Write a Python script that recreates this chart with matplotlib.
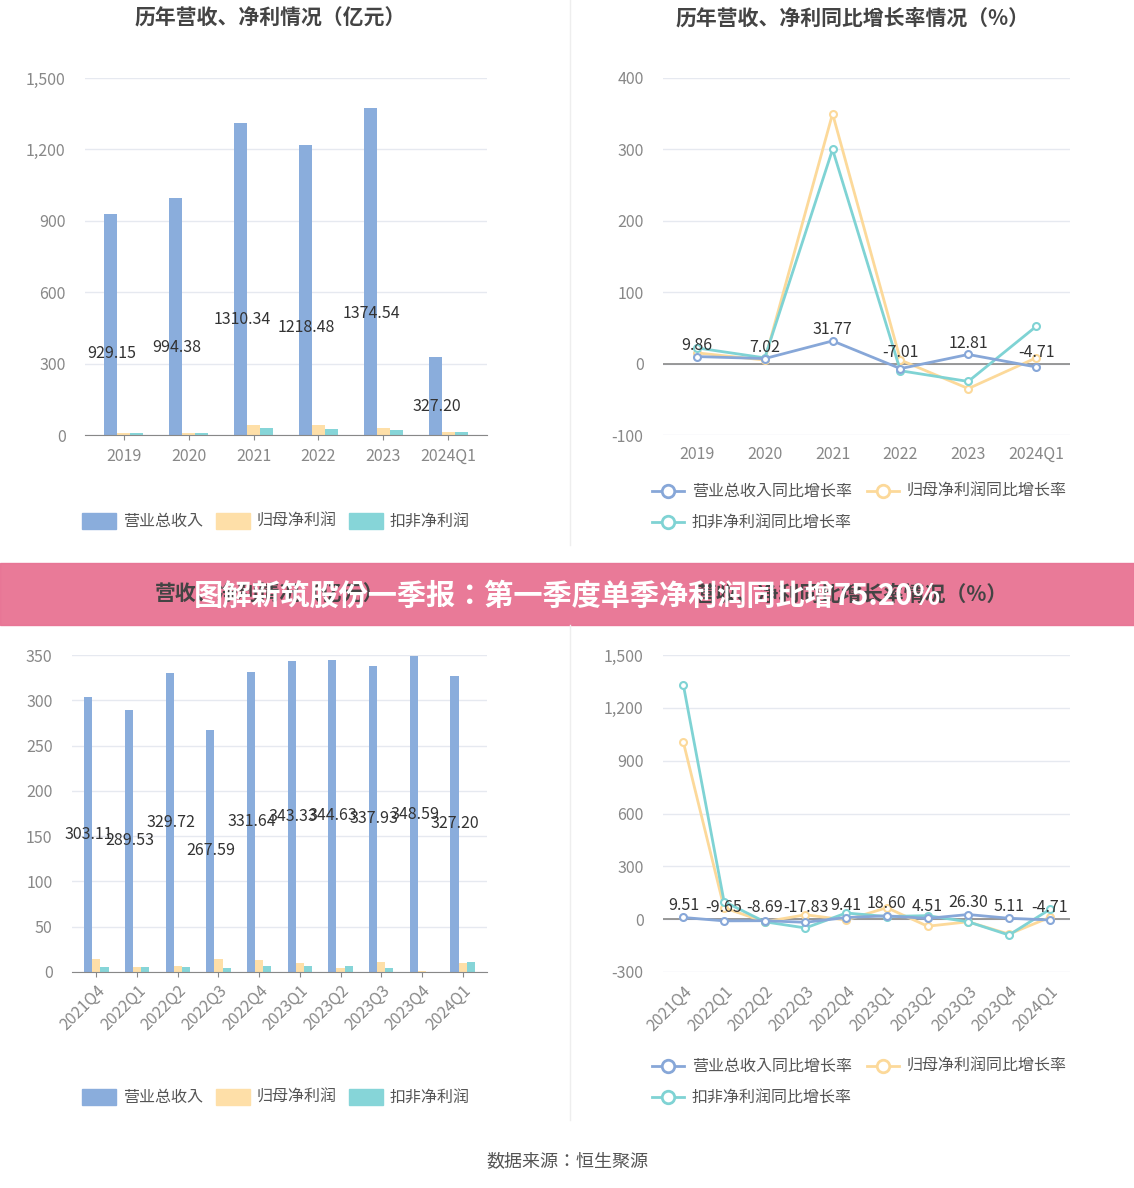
import matplotlib
matplotlib.use("Agg")
import matplotlib.pyplot as plt
import numpy as np

plt.rcParams["font.family"] = ["Noto Sans CJK SC", "Noto Sans CJK JP", "Noto Sans CJK TC",
                               "Noto Sans CJK KR", "DejaVu Sans"]

# ── données ─────────────────────────────────────────────
years = ["2019", "2020", "2021", "2022", "2023", "2024Q1"]
rev_y = [929.15, 994.38, 1310.34, 1218.48, 1374.54, 327.20]
net_y = [10, 10, 40, 43, 28, 12]
ded_y = [7, 7, 30, 25, 20, 11]
rev_g_y = [9.86, 7.02, 31.77, -7.01, 12.81, -4.71]
net_g_y = [15, 5, 350, 5, -35, 8]
ded_g_y = [22, 8, 300, -10, -25, 52]

quarters = ["2021Q4", "2022Q1", "2022Q2", "2022Q3", "2022Q4",
            "2023Q1", "2023Q2", "2023Q3", "2023Q4", "2024Q1"]
rev_q = [303.11, 289.53, 329.72, 267.59, 331.64, 343.33, 344.63, 337.93, 348.59, 327.20]
net_q = [14, 6, 7, 14, 13, 10, 4, 11, 1, 10]
ded_q = [5, 6, 5, 4, 7, 7, 7, 4, 0, 11]
rev_g_q = [9.51, -9.65, -8.69, -17.83, 9.41, 18.60, 4.51, 26.30, 5.11, -4.71]
net_g_q = [1005, 65, -15, 25, -5, 65, -40, -15, -85, 10]
ded_g_q = [1330, 100, -15, -50, 35, 15, 20, -15, -90, 55]

BLUE, YEL, CYAN = "#8aaddc", "#fedfa8", "#86d5d8"
LBLUE, LYEL, LCYAN = "#87a7d8", "#fcd99a", "#7fd3d4"
TICK = "#888888"
W, H = 1134, 1188

fig = plt.figure(figsize=(W / 100, H / 100), dpi=100)


def ax_px(x0, y0, x1, y1):
    return fig.add_axes([x0 / W, 1 - y1 / H, (x1 - x0) / W, (y1 - y0) / H])


def style(ax, ticks, fmt="{:,}"):
    ax.set_yticks(ticks)
    ax.set_yticklabels([fmt.format(t) for t in ticks], color=TICK, fontsize=11.5)
    ax.set_ylim(ticks[0], ticks[-1])
    ax.grid(axis="y", color="#e6e9f0", lw=1)
    ax.set_axisbelow(True)
    for s in ["top", "right", "left"]:
        ax.spines[s].set_visible(False)
    ax.spines["bottom"].set_color("#888888")
    ax.tick_params(axis="y", length=0, pad=14)
    ax.tick_params(axis="x", colors=TICK, labelsize=11.5, color="#888888")


def bars(ax, cats, rev, net, ded, ticks, lab_k, rot=0):
    x = np.arange(len(cats))
    w = 0.2
    ax.bar(x - w, rev, w, color=BLUE)
    ax.bar(x, net, w, color=YEL)
    ax.bar(x + w, ded, w, color=CYAN)
    for xi, v in zip(x, rev):
        ax.text(xi - w + 0.02, v * lab_k, f"{v:.2f}", ha="center", va="center",
                fontsize=11.5, color="#333333")
    ax.set_xticks(x)
    ax.set_xticklabels(cats, rotation=rot, ha="right" if rot else "center",
                       rotation_mode="anchor")
    ax.set_xlim(-0.6, len(cats) - 0.4)
    style(ax, ticks)


def lines(ax, cats, a, b, c, ticks, off, rot=0):
    x = np.arange(len(cats))
    for vals, col in [(b, LYEL), (c, LCYAN), (a, LBLUE)]:
        ax.plot(x, vals, color=col, lw=2, marker="o", ms=5, mfc="white", mew=1.5, zorder=3)
    for xi, v in zip(x, a):
        ax.text(xi, max(v, 0) + off, f"{v:.2f}", ha="center", va="bottom",
                fontsize=11.5, color="#333333", zorder=4)
    ax.set_xticks(x)
    ax.set_xticklabels(cats, rotation=rot, ha="right" if rot else "center",
                       rotation_mode="anchor")
    ax.set_xlim(-0.5, len(cats) - 0.5)
    style(ax, ticks)
    ax.spines["bottom"].set_visible(False)
    ax.axhline(0, color="#888888", lw=1.2, zorder=2)
    ax.tick_params(axis="x", length=0, pad=8)


# haut gauche
ax1 = ax_px(85, 78, 487, 435)
bars(ax1, years, rev_y, net_y, ded_y, [0, 300, 600, 900, 1200, 1500], 0.37)
ax1.tick_params(axis="x", pad=6)

# haut droite
ax2 = ax_px(663, 78, 1070, 435)
lines(ax2, years, rev_g_y, net_g_y, ded_g_y, [-100, 0, 100, 200, 300, 400], 4)

# bas gauche
ax3 = ax_px(72, 655, 487, 972)
bars(ax3, quarters, rev_q, net_q, ded_q, [0, 50, 100, 150, 200, 250, 300, 350], 0.5, rot=45)

# bas droite
ax4 = ax_px(663, 655, 1070, 972)
lines(ax4, quarters, rev_g_q, net_g_q, ded_g_q, [-300, 0, 300, 600, 900, 1200, 1500], 20, rot=45)

# titres
for x, y, t in [(270, 18, "历年营收、净利情况（亿元）"), (852, 18, "历年营收、净利同比增长率情况（%）"),
                (270, 594, "营收、净利情况（亿元）"), (852, 594, "营收、净利同比增长率情况（%）")]:
    fig.text(x / W, 1 - y / H, t, ha="center", va="center", fontsize=15,
             fontweight="bold", color="#444444")

# légendes
def legend_items(items, y, marker):
    for x, lab, col in items:
        if marker:
            fig.add_artist(plt.Line2D([(x - 16) / W, (x + 16) / W], [1 - y / H] * 2, color=col, lw=2))
            fig.add_artist(plt.Line2D([x / W], [1 - y / H], marker="o", ms=9, mfc="white",
                                      mec=col, mew=2, color=col))
        else:
            fig.add_artist(plt.Rectangle(((x - 17) / W, 1 - (y + 8) / H), 34 / W, 16 / H,
                                         color=col, transform=fig.transFigure))
        fig.text((x + 24) / W, 1 - y / H, lab, va="center", fontsize=11.5, color="#555555")

for yy in (521, 1097):
    legend_items([(99, "营业总收入", BLUE), (233, "归母净利润", YEL), (366, "扣非净利润", CYAN)], yy, False)
for yy in (491, 1066):
    legend_items([(668, "营业总收入同比增长率", LBLUE), (883, "归母净利润同比增长率", LYEL)], yy, True)
    legend_items([(668, "扣非净利润同比增长率", LCYAN)], yy + 31, True)

# séparateurs
fig.add_artist(plt.Line2D([570 / W] * 2, [1 - 0 / H, 1 - 545 / H], color="#eeeeee", lw=1))
fig.add_artist(plt.Line2D([570 / W] * 2, [1 - 625 / H, 1 - 1120 / H], color="#eeeeee", lw=1))

# bandeau
fig.add_artist(plt.Rectangle((0, 1 - 625 / H), 1, 62 / H, color="#e87393",
                             alpha=0.95, transform=fig.transFigure))
fig.text(0.5, 1 - 596 / H, "图解新筑股份一季报：第一季度单季净利润同比增75.20%", ha="center",
         va="center", fontsize=21, fontweight="bold", color="white")

fig.text(567 / W, 1 - 1161 / H, "数据来源：恒生聚源", ha="center", va="center",
         fontsize=13, color="#555555")

fig.savefig("out.png", dpi=100, facecolor="white")
